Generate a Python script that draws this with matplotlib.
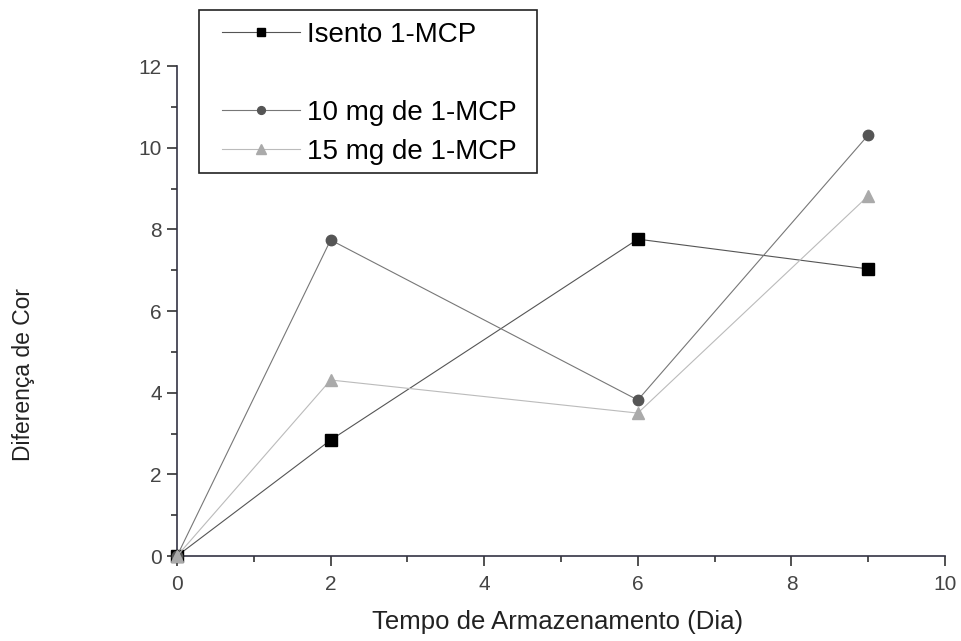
import matplotlib
matplotlib.use("Agg")
import matplotlib.pyplot as plt
from matplotlib.lines import Line2D
from matplotlib.patches import Rectangle
from matplotlib.ticker import MultipleLocator

plt.rcParams['font.family'] = ['Liberation Sans', 'DejaVu Sans']

dias = [0, 2, 6, 9]
isento = [0, 2.84, 7.76, 7.03]
mg10 = [0, 7.74, 3.82, 10.31]
mg15 = [0, 4.31, 3.50, 8.82]

W, H = 961, 641
fig = plt.figure(figsize=(W / 100, H / 100), dpi=100)
ax = fig.add_axes([0.1842, 0.1326, 0.7992, 0.7644])

l1, = ax.plot(dias, isento, color='#555555', lw=0.8, marker='s', ms=8,
              mfc='black', mec='black', label='Isento 1-MCP', clip_on=False, zorder=3)
l2, = ax.plot(dias, mg10, color='#777777', lw=0.8, marker='o', ms=7.5,
              mfc='#555555', mec='#555555', label='10 mg de 1-MCP', clip_on=False, zorder=3)
l3, = ax.plot(dias, mg15, color='#bbbbbb', lw=0.8, marker='^', ms=9,
              mfc='#aaaaaa', mec='#aaaaaa', label='15 mg de 1-MCP', clip_on=False, zorder=3)

ax.set_xlim(0, 10)
ax.set_ylim(0, 12)
ax.xaxis.set_major_locator(MultipleLocator(2))
ax.xaxis.set_minor_locator(MultipleLocator(1))
ax.yaxis.set_major_locator(MultipleLocator(2))
ax.yaxis.set_minor_locator(MultipleLocator(1))
ax.spines['top'].set_visible(False)
ax.spines['right'].set_visible(False)
for s in ('left', 'bottom'):
    ax.spines[s].set_color('#333344')
    ax.spines[s].set_linewidth(1.2)
ax.tick_params(which='major', length=7, width=1.2, color='#333333',
               labelsize=15, labelcolor='#444444', pad=4)
ax.tick_params(which='minor', length=4, width=1.2, color='#333333')
ax.tick_params(axis='x', which='major', pad=7)

ax.set_xlabel('Tempo de Armazenamento (Dia)', fontsize=18.5, color='#222222', va='center')
ax.xaxis.set_label_coords(0.495, -0.135)
ax.set_ylabel('Diferença de Cor', fontsize=16.5, color='#222222', va='center')
ax.yaxis.set_label_coords(-0.200, 0.371)

# legend without its own frame, the box is drawn separately
blank = Line2D([], [], linestyle='none', label=' ')
leg = fig.legend(handles=[l1, blank, l2, l3], loc='upper left',
                 bbox_to_anchor=(222 / W, 1 - 22 / H), bbox_transform=fig.transFigure,
                 fontsize=20, frameon=False, handlelength=2.8, labelspacing=0.47,
                 borderpad=0, borderaxespad=0, handletextpad=0.25, markerscale=0.75)
fig.patches.append(Rectangle((199 / W, 1 - 173 / H), 338 / W, 163 / H,
                             transform=fig.transFigure, fill=False,
                             edgecolor='#222222', lw=1.2))

fig.savefig('out.png', dpi=100)
